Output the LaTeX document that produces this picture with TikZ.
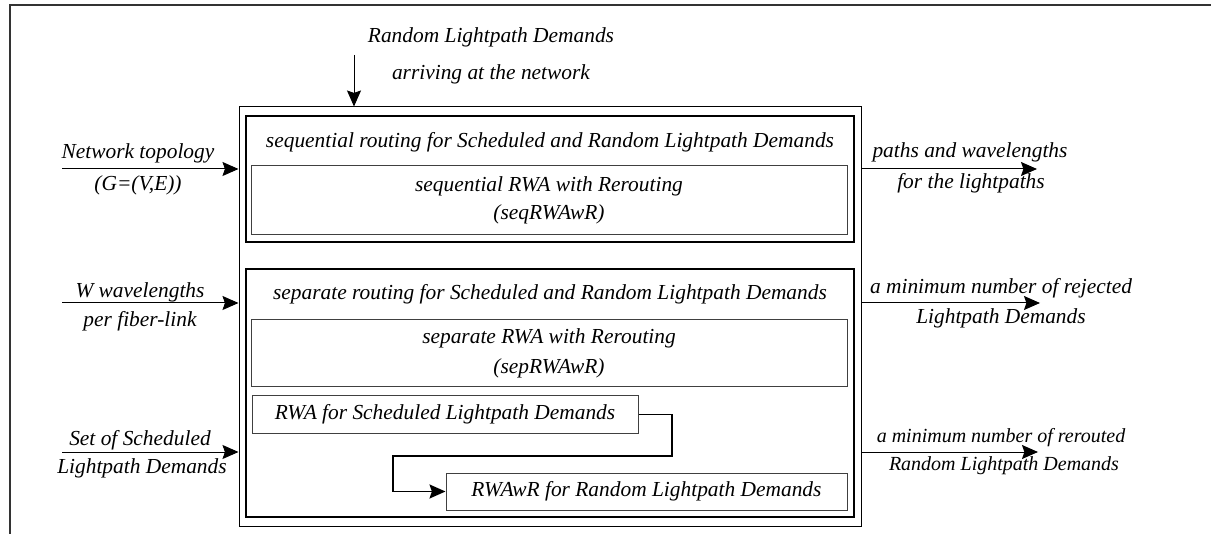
\documentclass[tikz,border=0pt]{standalone}
\usepackage{fontspec}
\setmainfont{Liberation Serif}
\usetikzlibrary{arrows.meta,positioning,calc}

\begin{document}
\begin{tikzpicture}[
  x=0.5pt,y=-0.5pt,
  font=\fontsize{10.7}{12.8}\selectfont\itshape,
  >={Stealth[length=8pt,width=7pt,inset=1.2pt]},
  thinbox/.style={draw=black,line width=0.5pt,inner sep=0pt},
  thickbox/.style={draw=black,line width=1pt,inner sep=0pt,minimum width=304pt},
  algbox/.style={draw=black!75,line width=0.5pt,align=center,inner sep=2pt,
                 minimum width=298pt},
  stepbox/.style={draw=black!75,line width=0.5pt,inner sep=2pt,minimum height=18.5pt},
  head/.style={inner sep=1pt},
  lbl/.style={inner sep=1pt},
  small/.style={font=\fontsize{10}{12}\selectfont\itshape,inner sep=1pt},
  arr/.style={->,line width=0.5pt},
  link/.style={->,line width=0.9pt},
  framel/.style={draw=black!80,line width=0.6pt},
]
\useasboundingbox (0,0) rectangle (1211,534);
% ---- frame ----
\draw[framel] (10,534) -- (10,5) -- (1211,5);

% ---- system ----
\node[thinbox,minimum width=311pt,minimum height=209.5pt] (sys) at (550,316.5) {};
\node[thickbox,minimum height=63pt] (seq) at (550,179) {};
\node[head] (seqhead) at (550,142) {sequential routing for Scheduled and Random Lightpath Demands};
\node[algbox,minimum height=34.5pt] (seqrwa) at (549,200.5)
  {sequential RWA with Rerouting\\[1.5pt](seqRWAwR)};
\node[thickbox,minimum height=124pt] (sep) at (550,393) {};
\node[head] (sephead) at (550,294) {separate routing for Scheduled and Random Lightpath Demands};
\node[algbox,minimum height=33.5pt] (seprwa) at (549,353.5)
  {separate RWA with Rerouting\\[2.5pt](sepRWAwR)};
\node[stepbox,minimum width=193pt] (rwas) at (445,414.5) {RWA for Scheduled Lightpath Demands};
\node[stepbox,minimum width=200.5pt] (rwar) at (646.5,491.5) {RWAwR for Random Lightpath Demands};
\draw[link] (rwas.east) -| (672,456) -| (393,491.5) -- (rwar.west);

% ---- inputs ----
\node[lbl,align=center] (rnd) at (491,56) {Random Lightpath Demands\\[5.5pt]arriving at the network};
\coordinate (rndin) at (354,55);
\draw[arr] (rndin) -- (rndin |- sys.north);

\node[lbl] (topo) at (138,153) {Network topology};
\node[lbl] (topo2) at (138,185) {(G=(V,E))};
\coordinate (topoin) at (62,169);
\draw[arr] (topoin) -- (topoin -| sys.west);

\node[lbl] (wl) at (140,292) {W wavelengths};
\node[lbl] (wl2) at (140,321) {per fiber-link};
\coordinate (wlin) at (62,303);
\draw[arr] (wlin) -- (wlin -| sys.west);

\node[lbl] (sld) at (140,440) {Set of Scheduled};
\node[lbl] (sld2) at (142,468) {Lightpath Demands};
\coordinate (sldin) at (62,452);
\draw[arr] (sldin) -- (sldin -| sys.west);

% ---- outputs ----
\node[lbl] (paths) at (970,152) {paths and wavelengths};
\node[lbl] (paths2) at (971,183) {for the lightpaths};
\coordinate (pathsout) at (1037,169);
\draw[arr] (pathsout -| sys.east) -- (pathsout);

\node[lbl] (rej) at (1001,288) {a minimum number of rejected};
\node[lbl] (rej2) at (1001,318) {Lightpath Demands};
\coordinate (rejout) at (1040,303);
\draw[arr] (rejout -| sys.east) -- (rejout);

\node[small] (rer) at (1001,438) {a minimum number of rerouted};
\node[small] (rer2) at (1004,466) {Random Lightpath Demands};
\coordinate (rerout) at (1038,452);
\draw[arr] (rerout -| sys.east) -- (rerout);
\end{tikzpicture}
\end{document}
